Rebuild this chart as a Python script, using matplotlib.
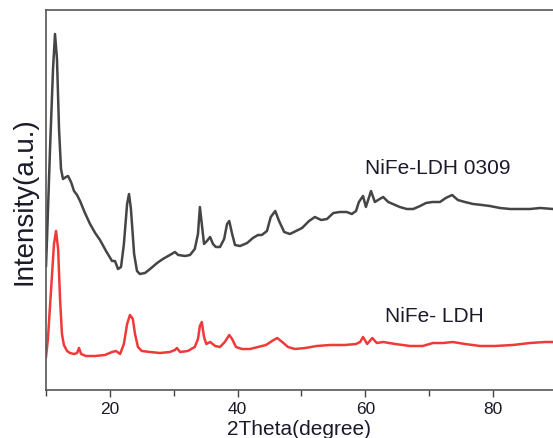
import matplotlib
matplotlib.use("Agg")
import matplotlib.pyplot as plt

plt.rcParams['font.family'] = ['Liberation Sans', 'DejaVu Sans']

# NiFe-LDH 0309 (black) — 2theta (deg), intensity (a.u.)
x_0309 = [10.0, 10.16, 10.63, 11.1, 11.41, 11.72, 12.04, 12.35, 12.66, 13.13, 13.45, 13.92,
          14.39, 14.86, 15.33, 16.1, 16.9, 17.7, 18.46, 19.4, 20.34, 20.8, 21.28, 21.75,
          22.2, 22.7, 23.0, 23.3, 23.8, 24.25, 24.7, 25.5, 26.3, 27.4, 28.3, 29.4, 30.2,
          30.7, 31.8, 32.55, 33.3, 33.8, 34.1, 34.4, 34.75, 35.2, 35.7, 36.15, 36.6, 37.25,
          37.9, 38.35, 38.7, 39.15, 39.6, 40.4, 41.5, 42.4, 43.2, 43.8, 44.6, 45.2, 45.9,
          46.5, 47.3, 48.2, 49.15, 50.1, 51.2, 52.1, 53.1, 54.0, 55.0, 56.0, 57.1, 57.9,
          58.55, 59.0, 59.65, 60.1, 60.9, 61.5, 62.0, 62.8, 63.6, 65.4, 66.5, 67.5, 68.6,
          69.5, 70.5, 71.7, 72.6, 73.6, 74.5, 75.6, 76.9, 78.3, 79.5, 81.1, 82.7, 84.2,
          85.8, 87.4, 89.4]
y_0309 = [124, 151, 241, 321, 356, 331, 261, 221, 211, 213, 214, 208,
          199, 195, 189, 177, 166, 157, 150, 139, 129, 129, 121, 123,
          146, 186, 196, 181, 136, 119, 116, 117, 121, 127, 131, 135, 138,
          135, 134, 135, 141, 156, 183, 166, 146, 149, 153, 146, 143, 143,
          151, 166, 169, 156, 145, 144, 147, 152, 155, 155, 159, 173, 179,
          169, 158, 156, 159, 162, 169, 173, 170, 171, 177, 178, 178, 176,
          179, 188, 194, 183, 199, 188, 190, 193, 188, 183, 181, 181, 184,
          187, 188, 188, 192, 195, 190, 188, 186, 185, 184, 182, 181, 181,
          181, 182, 181]

# NiFe- LDH (red)
x_ldh = [10.0, 10.3, 10.8, 11.25, 11.57, 11.9, 12.2, 12.5, 12.8, 13.3, 13.75, 14.4, 14.86,
         15.17, 15.5, 16.26, 17.67, 19.24, 20.34, 20.96, 21.6, 22.2, 22.7, 23.15, 23.6,
         23.94, 24.4, 25.0, 26.3, 27.85, 29.4, 30.2, 30.5, 31.0, 32.2, 33.3, 33.8, 34.1,
         34.4, 34.75, 35.1, 35.7, 36.5, 37.25, 38.0, 38.7, 39.15, 39.75, 40.7, 41.95,
         43.2, 44.45, 45.4, 46.2, 47.0, 47.9, 49.0, 50.6, 52.4, 54.5, 56.8, 58.55, 59.2,
         59.65, 60.3, 61.1, 61.8, 62.8, 64.7, 67.0, 69.0, 70.6, 72.2, 73.7, 75.6, 78.0,
         80.3, 83.1, 85.8, 88.2, 89.4]
y_ldh = [33, 51, 101, 146, 159, 141, 91, 56, 45, 39, 37, 36, 37,
         42, 36, 34, 34, 35, 38, 39, 36, 46, 66, 75, 71,
         56, 43, 39, 38, 37, 38, 40, 42, 38, 39, 43, 51, 64,
         68, 53, 46, 48, 44, 43, 48, 55, 51, 43, 41, 41,
         43, 45, 49, 52, 48, 43, 41, 42, 44, 45, 45, 46, 48,
         53, 46, 52, 47, 48, 46, 44, 44, 47, 47, 48, 46, 44,
         44, 45, 47, 48, 48]

x_ticks = [20, 40, 60, 80]
x_minor = [10, 30, 50, 70]

fig = plt.figure(figsize=(5.53, 4.39), dpi=100)
ax = fig.add_axes([46/553, 48/439, 1 - 46/553, (391-11)/439])

ax.plot(x_0309, y_0309, color='#454545', lw=1.8)
ax.plot(x_ldh, y_ldh, color='#f03a3a', lw=1.8)

ax.set_xlim(10, 89.4)
ax.set_ylim(0, 380)
ax.set_yticks([])
ax.set_xticks(x_ticks)
ax.set_xticks(x_minor, minor=True)
ax.tick_params(axis='x', which='major', direction='out', length=5, width=1, color='#444444',
               labelsize=12.5, labelcolor='#1a1a2a', pad=3)
ax.tick_params(axis='x', which='minor', direction='out', length=4, width=1, color='#444444')

for s in ['left', 'bottom', 'top']:
    ax.spines[s].set_color('#555555')
    ax.spines[s].set_linewidth(1.2)
ax.spines['right'].set_visible(False)

ax.set_xlabel('2Theta(degree)', fontsize=15, color='#1a1a2a', labelpad=2)
ax.set_ylabel('Intensity(a.u.)', fontsize=20, color='#1a1a2a', labelpad=6)

ax.text(71.3, 223, 'NiFe-LDH 0309', fontsize=15, color='#1a1a2a',
        ha='center', va='center')
ax.text(70.8, 74, 'NiFe- LDH', fontsize=15, color='#1a1a2a', ha='center', va='center')

fig.savefig('out.png', dpi=100)
